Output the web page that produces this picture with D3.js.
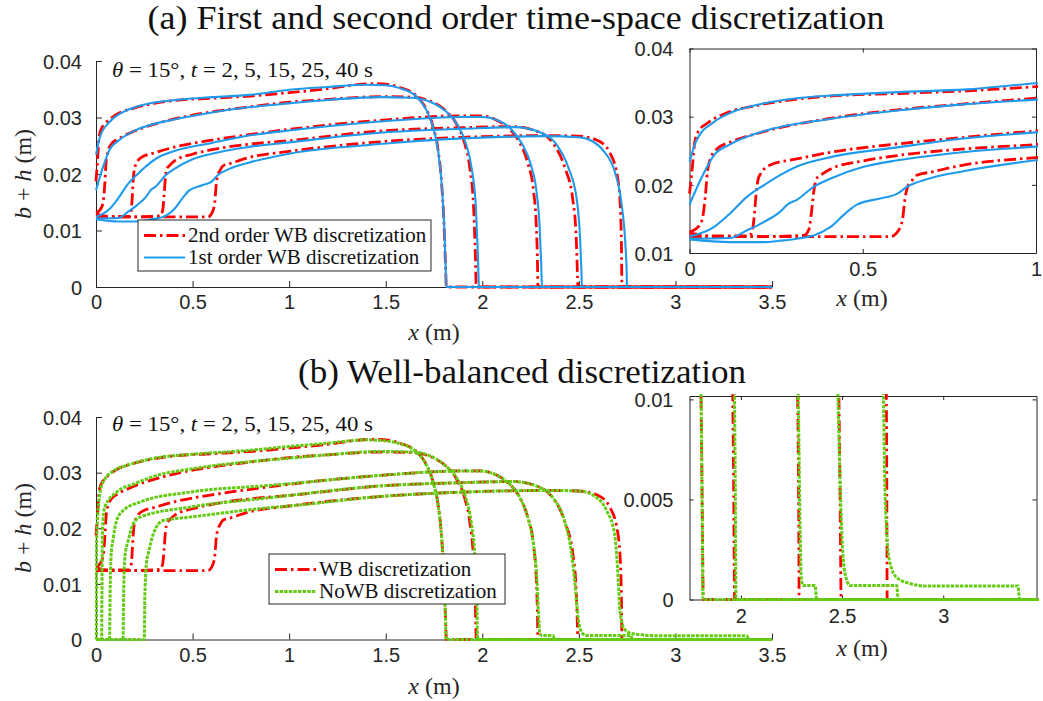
<!DOCTYPE html>
<html>
<head>
<meta charset="utf-8">
<script src="https://cdn.jsdelivr.net/npm/d3@7"></script>
<style>
  body { margin: 0; background: #fff; }
  svg { display: block; }
</style>
</head>
<body>
<script>
// ---- Free-surface profiles b+h (m) along x (m), theta = 15 deg, t = 2, 5, 15, 25, 40 s ----
const times = [2, 5, 15, 25, 40];

// 2nd order well-balanced discretization
const wb2_t2 = [[0,0.0187],[0.008,0.0225],[0.015,0.0262],[0.025,0.0278],[0.05,0.0290],[0.1,0.0304],[0.2,0.0317],[0.3,0.0325],[0.4,0.0330],[0.6,0.0334],[0.8,0.0338],[1.0,0.0344],[1.2,0.0351],[1.35,0.0358],[1.45,0.0360],[1.52,0.0358],[1.573,0.0353],[1.659,0.0338],[1.711,0.0314],[1.745,0.0284],[1.771,0.0243],[1.788,0.0190],[1.802,0.0110],[1.810,0.0035],[1.814,0],[3.5,0]];
const wb2_t5 = [[0,0.0131],[0.02,0.0136],[0.036,0.0148],[0.045,0.0180],[0.052,0.0220],[0.06,0.0238],[0.08,0.0253],[0.12,0.0263],[0.2,0.0276],[0.4,0.0297],[0.6,0.0310],[0.8,0.0319],[1.0,0.0327],[1.2,0.0332],[1.47,0.0337],[1.64,0.0336],[1.73,0.0329],[1.814,0.0311],[1.866,0.0289],[1.909,0.0254],[1.935,0.0212],[1.955,0.0141],[1.964,0.0060],[1.969,0],[3.5,0]];
const wb2_t15 = [[0,0.0129],[0.07,0.0125],[0.17,0.0125],[0.18,0.0130],[0.186,0.0150],[0.192,0.0185],[0.198,0.0208],[0.205,0.0216],[0.233,0.0229],[0.31,0.0238],[0.41,0.0248],[0.6,0.0260],[0.8,0.0270],[1.0,0.0279],[1.47,0.0295],[1.9,0.0303],[1.99,0.0303],[2.07,0.0296],[2.133,0.0282],[2.193,0.0256],[2.236,0.0219],[2.265,0.0171],[2.280,0.0106],[2.286,0.0040],[2.288,0],[3.5,0]];
const wb2_t25 = [[0,0.0124],[0.2,0.0124],[0.33,0.0126],[0.345,0.0135],[0.352,0.0160],[0.36,0.0195],[0.368,0.0210],[0.378,0.0214],[0.41,0.0224],[0.5,0.0235],[0.6,0.0243],[0.8,0.0253],[1.0,0.0259],[1.47,0.0276],[1.9,0.0282],[2.16,0.0284],[2.28,0.0276],[2.365,0.0255],[2.426,0.0213],[2.469,0.0154],[2.487,0.0082],[2.493,0.0020],[2.495,0],[3.5,0]];
const wb2_t40 = [[0,0.0124],[0.3,0.0124],[0.58,0.0124],[0.603,0.0133],[0.615,0.0150],[0.622,0.0180],[0.63,0.0198],[0.64,0.0205],[0.656,0.0214],[0.7,0.0219],[0.79,0.0229],[1.0,0.0240],[1.47,0.0257],[1.9,0.0265],[2.33,0.0268],[2.5,0.0267],[2.6,0.0259],[2.66,0.0238],[2.70,0.0195],[2.715,0.0140],[2.721,0.0060],[2.723,0],[3.5,0]];

// 1st order well-balanced discretization
const wb1_t2 = [[0,0.0234],[0.02,0.0265],[0.07,0.0292],[0.12,0.0306],[0.21,0.0319],[0.31,0.0327],[0.41,0.0331],[0.6,0.0336],[0.8,0.0340],[1.0,0.0349],[1.2,0.0354],[1.4,0.0358],[1.5,0.0357],[1.573,0.0352],[1.659,0.0337],[1.711,0.0313],[1.745,0.0283],[1.771,0.0242],[1.788,0.0189],[1.803,0.0106],[1.811,0.0030],[1.814,0],[3.5,0]];
const wb1_t5 = [[0,0.0171],[0.04,0.0216],[0.07,0.0243],[0.12,0.0260],[0.21,0.0278],[0.41,0.0297],[0.6,0.0309],[0.79,0.0318],[1.0,0.0325],[1.2,0.0331],[1.47,0.0336],[1.64,0.0335],[1.73,0.0328],[1.814,0.0310],[1.87,0.0288],[1.915,0.0254],[1.945,0.0210],[1.967,0.0140],[1.977,0.0060],[1.983,0],[3.5,0]];
const wb1_t15 = [[0,0.0124],[0.07,0.0138],[0.117,0.0158],[0.165,0.0182],[0.213,0.0199],[0.26,0.0214],[0.31,0.0227],[0.41,0.0241],[0.6,0.0255],[0.79,0.0268],[1.0,0.0277],[1.47,0.0293],[1.9,0.0301],[2.0,0.0301],[2.08,0.0295],[2.145,0.0281],[2.205,0.0254],[2.25,0.0218],[2.28,0.0171],[2.297,0.0106],[2.305,0.0040],[2.309,0],[3.5,0]];
const wb1_t25 = [[0,0.0121],[0.117,0.0122],[0.165,0.0133],[0.213,0.0145],[0.26,0.0160],[0.285,0.0172],[0.31,0.0178],[0.358,0.0197],[0.406,0.0209],[0.5,0.0226],[0.6,0.0236],[0.79,0.0248],[1.0,0.0256],[1.47,0.0273],[1.9,0.0280],[2.17,0.0283],[2.29,0.0275],[2.38,0.0254],[2.445,0.0212],[2.49,0.0153],[2.507,0.0082],[2.514,0.0020],[2.516,0],[3.5,0]];
const wb1_t40 = [[0,0.0120],[0.117,0.0116],[0.213,0.0116],[0.26,0.0118],[0.31,0.0121],[0.36,0.0126],[0.406,0.0138],[0.454,0.0160],[0.483,0.0171],[0.55,0.0180],[0.6,0.0187],[0.627,0.0197],[0.69,0.0209],[0.79,0.0220],[1.0,0.0236],[1.47,0.0253],[1.9,0.0263],[2.33,0.0267],[2.5,0.0265],[2.57,0.0258],[2.63,0.0240],[2.685,0.0205],[2.72,0.0150],[2.74,0.0080],[2.748,0.0020],[2.749,0],[3.5,0]];

// Non well-balanced discretization
const nowb_t2 = [[0,0],[0.002,0],[0.003,0.0175],[0.02,0.0262],[0.04,0.0285],[0.1,0.0305],[0.16,0.0313],[0.3,0.0326],[0.5,0.0333],[0.79,0.0340],[1.0,0.0347],[1.2,0.0353],[1.4,0.0359],[1.5,0.0357],[1.573,0.0352],[1.659,0.0337],[1.711,0.0313],[1.745,0.0283],[1.771,0.0242],[1.788,0.0189],[1.803,0.0106],[1.810,0.0030],[1.8125,0],[3.5,0]];
const nowb_t5 = [[0,0],[0.029,0],[0.031,0.0100],[0.034,0.0200],[0.045,0.0238],[0.107,0.0265],[0.2,0.0280],[0.314,0.0295],[0.5,0.0307],[0.9,0.0323],[1.0,0.0326],[1.2,0.0332],[1.47,0.0338],[1.64,0.0337],[1.73,0.0330],[1.814,0.0311],[1.87,0.0289],[1.915,0.0254],[1.942,0.0212],[1.963,0.0141],[1.972,0.0060],[1.976,0],[3.5,0]];
const nowb_t15 = [[0,0],[0.07,0],[0.073,0.0080],[0.078,0.0150],[0.09,0.0184],[0.107,0.0214],[0.141,0.0232],[0.228,0.0247],[0.486,0.0265],[0.9,0.0277],[1.0,0.0280],[1.47,0.0295],[1.9,0.0303],[1.99,0.0303],[2.07,0.0296],[2.133,0.0282],[2.193,0.0256],[2.236,0.0219],[2.265,0.0171],[2.283,0.0106],[2.292,0.0040],[2.298,0.0012],[2.306,0.0007],[2.367,0.0007],[2.372,0.0002],[2.375,0],[3.5,0]];
const nowb_t25 = [[0,0],[0.14,0],[0.143,0.0080],[0.15,0.0150],[0.167,0.0178],[0.193,0.0208],[0.228,0.0220],[0.486,0.0238],[0.9,0.0255],[1.0,0.0259],[1.47,0.0276],[1.9,0.0282],[2.16,0.0284],[2.28,0.0276],[2.365,0.0255],[2.426,0.0213],[2.46,0.0160],[2.48,0.0100],[2.49,0.0060],[2.498,0.0035],[2.506,0.0020],[2.522,0.0010],[2.54,0.0007],[2.77,0.0007],[2.775,0.0002],[2.778,0],[3.5,0]];
const nowb_t40 = [[0,0],[0.25,0],[0.253,0.0080],[0.262,0.0140],[0.271,0.0155],[0.297,0.0190],[0.348,0.0214],[0.486,0.0220],[0.9,0.0237],[1.0,0.0240],[1.47,0.0257],[1.9,0.0265],[2.33,0.0268],[2.5,0.0267],[2.589,0.0256],[2.645,0.0231],[2.685,0.0190],[2.700,0.0130],[2.705,0.0100],[2.711,0.0060],[2.72,0.0035],[2.733,0.0020],[2.77,0.0011],[2.836,0.0008],[2.918,0.00067],[3.37,0.00067],[3.375,0.0002],[3.378,0],[3.5,0]];

const wb2Series = [wb2_t2, wb2_t5, wb2_t15, wb2_t25, wb2_t40];
const wb1Series = [wb1_t2, wb1_t5, wb1_t15, wb1_t25, wb1_t40];
const nowbSeries = [nowb_t2, nowb_t5, nowb_t15, nowb_t25, nowb_t40];

// tick values
const mainXTicks = [0, 0.5, 1, 1.5, 2, 2.5, 3, 3.5];
const mainXTickLabels = ["0", "0.5", "1", "1.5", "2", "2.5", "3", "3.5"];
const mainYTicks = [0, 0.01, 0.02, 0.03, 0.04];
const mainYTickLabels = ["0", "0.01", "0.02", "0.03", "0.04"];
const insetAXTicks = [0, 0.5, 1];
const insetAXTickLabels = ["0", "0.5", "1"];
const insetAYTicks = [0.01, 0.02, 0.03, 0.04];
const insetAYTickLabels = ["0.01", "0.02", "0.03", "0.04"];
const insetBXTicks = [2, 2.5, 3];
const insetBXTickLabels = ["2", "2.5", "3"];
const insetBYTicks = [0, 0.005, 0.01];
const insetBYTickLabels = ["0", "0.005", "0.01"];

// ---- styling ----
const RED = "#ff0000", BLUE = "#1f9bee", GREEN = "#63cc12", AXIS = "#262626";
const SERIF = "'Liberation Serif', 'Times New Roman', serif";
const SANS = "'Liberation Sans', Arial, Helvetica, sans-serif";
const styles = {
  wb2:  { stroke: RED,   width: 2.8, dash: "12,4,2.5,4" },
  wb1:  { stroke: BLUE,  width: 2.1, dash: null },
  nowb: { stroke: GREEN, width: 3.0, dash: "3.4,1.2" }
};

const svg = d3.select("body").append("svg").attr("width", 1043).attr("height", 701);
const defs = svg.append("defs");
let clipId = 0;

function mathText(sel, parts) {
  parts.forEach(([s, it]) => sel.append("tspan").attr("font-style", it ? "italic" : "normal").text(s));
  return sel;
}

function makeAxes(cfg) {
  const x = d3.scaleLinear().domain(cfg.xDomain).range(cfg.xRange);
  const y = d3.scaleLinear().domain(cfg.yDomain).range(cfg.yRange);
  const g = svg.append("g");
  const [x0, x1] = cfg.xRange, [y0, y1] = cfg.yRange; // y0 bottom, y1 top
  if (cfg.box) {
    g.append("rect").attr("x", x0).attr("y", y1).attr("width", x1 - x0).attr("height", y0 - y1)
      .attr("fill", "#fff").attr("stroke", "none");
  }
  const fmt = (ticks, labels) => d => labels[ticks.indexOf(d)];
  const tl = cfg.tickLen;
  const ax = g.append("g").attr("transform", `translate(0,${y0})`)
    .call(d3.axisBottom(x).tickValues(cfg.xTicks).tickFormat(fmt(cfg.xTicks, cfg.xLabels))
      .tickSizeInner(-tl).tickSizeOuter(0).tickPadding(cfg.xPad));
  const ay = g.append("g").attr("transform", `translate(${x0},0)`)
    .call(d3.axisLeft(y).tickValues(cfg.yTicks).tickFormat(fmt(cfg.yTicks, cfg.yLabels))
      .tickSizeInner(-tl).tickSizeOuter(0).tickPadding(cfg.yPad));
  [ax, ay].forEach(a => {
    a.select(".domain").attr("stroke", AXIS).attr("stroke-width", 1);
    a.selectAll(".tick line").attr("stroke", AXIS).attr("stroke-width", 1);
    a.selectAll(".tick text").attr("fill", AXIS).attr("font-family", SANS).attr("font-size", 20);
  });
  ay.selectAll(".tick text").attr("dy", "0.36em");
  if (cfg.box) {
    const at = g.append("g").attr("transform", `translate(0,${y1})`)
      .call(d3.axisTop(x).tickValues(cfg.xTicks).tickFormat("").tickSizeInner(-tl).tickSizeOuter(0));
    const ar = g.append("g").attr("transform", `translate(${x1},0)`)
      .call(d3.axisRight(y).tickValues(cfg.yTicks).tickFormat("").tickSizeInner(-tl).tickSizeOuter(0));
    [at, ar].forEach(a => {
      a.select(".domain").attr("stroke", AXIS).attr("stroke-width", 1);
      a.selectAll(".tick line").attr("stroke", AXIS).attr("stroke-width", 1);
    });
  }
  const id = "clip" + (clipId++);
  defs.append("clipPath").attr("id", id).append("rect")
    .attr("x", x0 - 2).attr("y", y1 - 2).attr("width", x1 - x0 + 4).attr("height", y0 - y1 + 4);
  const plot = svg.append("g").attr("clip-path", `url(#${id})`);
  return { x, y, g, plot };
}

function drawSeries(axes, series, st) {
  const line = d3.line().x(d => axes.x(d[0])).y(d => axes.y(d[1])).curve(d3.curveMonotoneX);
  series.forEach(s => {
    axes.plot.append("path").attr("d", line(s)).attr("fill", "none")
      .attr("stroke", st.stroke).attr("stroke-width", st.width)
      .attr("stroke-dasharray", st.dash).attr("stroke-linejoin", "round");
  });
}

function xLabel(cx, baseY) {
  mathText(svg.append("text").attr("x", cx).attr("y", baseY).attr("text-anchor", "middle")
    .attr("font-family", SERIF).attr("font-size", 24).attr("fill", AXIS), [["x", 1], [" (m)", 0]]);
}
function yLabel(cx, cy) {
  mathText(svg.append("text").attr("transform", `translate(${cx},${cy}) rotate(-90)`).attr("text-anchor", "middle")
    .attr("font-family", SERIF).attr("font-size", 24).attr("fill", AXIS), [["b", 1], [" + ", 0], ["h", 1], [" (m)", 0]]);
}
function annotation(x, y) {
  mathText(svg.append("text").attr("x", x).attr("y", y).attr("font-family", SERIF)
    .attr("font-size", 22).attr("fill", "#111").attr("textLength", 261).attr("lengthAdjust", "spacingAndGlyphs"),
    [["θ", 1], [" = 15°, ", 0], ["t", 1], [" = 2, 5, 15, 25, 40 s", 0]]);
}
function legend(x, y, w, h, entries) {
  svg.append("rect").attr("x", x).attr("y", y).attr("width", w).attr("height", h)
    .attr("fill", "#fff").attr("stroke", AXIS).attr("stroke-width", 1);
  entries.forEach((e, i) => {
    const ly = y + 15.5 + i * 22;
    svg.append("line").attr("x1", x + 6).attr("x2", x + 47).attr("y1", ly).attr("y2", ly)
      .attr("stroke", e.st.stroke).attr("stroke-width", e.st.width).attr("stroke-dasharray", e.st.dash);
    svg.append("text").attr("x", x + 50).attr("y", ly + 6.5).attr("font-family", SERIF)
      .attr("font-size", 21).attr("fill", "#111").text(e.label);
  });
}
function title(cx, y, txt, len) {
  svg.append("text").attr("x", cx).attr("y", y).attr("text-anchor", "middle")
    .attr("font-family", SERIF).attr("font-size", 34).attr("fill", "#111")
    .attr("textLength", len).attr("lengthAdjust", "spacingAndGlyphs").text(txt);
}

// ================= (a) =================
title(516, 29, "(a) First and second order time-space discretization", 737);
const aMain = makeAxes({ xDomain: [0, 3.5], xRange: [96, 772], yDomain: [0, 0.04], yRange: [287, 61],
  xTicks: mainXTicks, xLabels: mainXTickLabels, yTicks: mainYTicks, yLabels: mainYTickLabels,
  tickLen: 6, xPad: 8, yPad: 14, box: false });
drawSeries(aMain, wb2Series, styles.wb2);
drawSeries(aMain, wb1Series, styles.wb1);
annotation(112, 77);
legend(138, 220, 293, 51, [
  { st: styles.wb2, label: "2nd order WB discretization" },
  { st: styles.wb1, label: "1st order WB discretization" }]);
xLabel(434, 340);
yLabel(31, 174);

const aInset = makeAxes({ xDomain: [0, 1], xRange: [689.5, 1036], yDomain: [0.01, 0.04], yRange: [253, 48.5],
  xTicks: insetAXTicks, xLabels: insetAXTickLabels, yTicks: insetAYTicks, yLabels: insetAYTickLabels,
  tickLen: 4, xPad: 9, yPad: 16, box: true });
drawSeries(aInset, wb2Series, styles.wb2);
drawSeries(aInset, wb1Series, styles.wb1);
xLabel(862, 306);

// ================= (b) =================
title(522, 383, "(b) Well-balanced discretization", 448);
const bMain = makeAxes({ xDomain: [0, 3.5], xRange: [96, 772], yDomain: [0, 0.04], yRange: [639.5, 417],
  xTicks: mainXTicks, xLabels: mainXTickLabels, yTicks: mainYTicks, yLabels: mainYTickLabels,
  tickLen: 6, xPad: 8, yPad: 14, box: false });
drawSeries(bMain, wb2Series, styles.wb2);
drawSeries(bMain, nowbSeries, styles.nowb);
annotation(112, 431);
legend(269, 554, 236, 50, [
  { st: styles.wb2, label: "WB discretization" },
  { st: styles.nowb, label: "NoWB discretization" }]);
xLabel(434, 694);
yLabel(31, 528);

const bInset = makeAxes({ xDomain: [1.746, 3.461], xRange: [689.5, 1036.5], yDomain: [0, 0.01017], yRange: [599.5, 396],
  xTicks: insetBXTicks, xLabels: insetBXTickLabels, yTicks: insetBYTicks, yLabels: insetBYTickLabels,
  tickLen: 4, xPad: 9, yPad: 16, box: true });
drawSeries(bInset, wb2Series, styles.wb2);
drawSeries(bInset, nowbSeries, styles.nowb);
xLabel(862, 656);
</script>
</body>
</html>
